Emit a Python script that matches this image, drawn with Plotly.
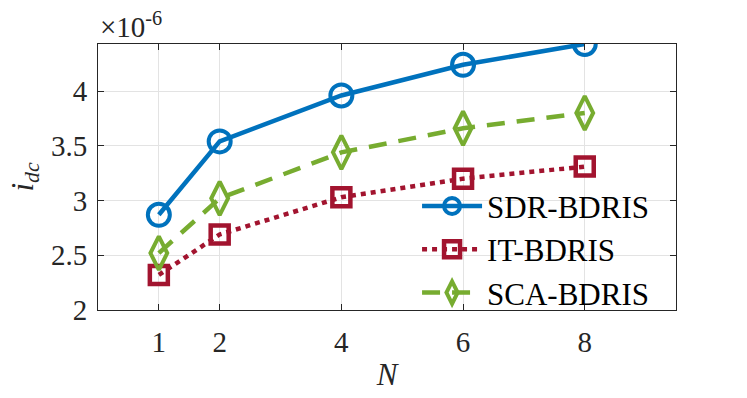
import plotly.graph_objects as go

N = [1, 2, 4, 6, 8]
sdr = [2.87, 3.54, 3.96, 4.24, 4.43]
it = [2.32, 2.69, 3.03, 3.20, 3.31]
sca = [2.52, 3.02, 3.44, 3.66, 3.80]
yticks = [2, 2.5, 3, 3.5, 4]
ytick_labels = ["2", "2.5", "3", "3.5", "4"]
xticks = [1, 2, 4, 6, 8]

FONT = "'Liberation Serif', 'Times New Roman', Times, serif"
fig = go.Figure()
fig.add_trace(go.Scatter(x=N, y=sdr, name="SDR-BDRIS", mode="lines+markers",
                         line=dict(color="#0072BD", width=4.5),
                         marker=dict(symbol="circle-open", size=22, line=dict(width=4, color="#0072BD"))))
fig.add_trace(go.Scatter(x=N, y=it, name="IT-BDRIS", mode="lines+markers",
                         line=dict(color="#A2142F", width=4.5, dash="5px,5px"),
                         marker=dict(symbol="square-open", size=18, line=dict(width=4.5, color="#A2142F"))))
fig.add_trace(go.Scatter(x=N, y=sca, name="SCA-BDRIS", mode="lines+markers",
                         line=dict(color="#77AC30", width=4.5, dash="18px,12px"),
                         marker=dict(symbol="diamond-tall-open", size=24, line=dict(width=4, color="#77AC30"))))

axis_common = dict(showline=True, linecolor="#262626", linewidth=1, mirror="ticks",
                   ticks="inside", ticklen=6, tickcolor="#262626", automargin=False,
                   showgrid=True, gridcolor="#e3e3e3", gridwidth=1, zeroline=False,
                   tickfont=dict(family=FONT, size=29, color="#262626"))
fig.update_xaxes(range=[0, 9.5], tickvals=xticks, **axis_common,
                 title=dict(text="<i>N</i>", font=dict(family=FONT, size=31, color="#262626"), standoff=6))
fig.update_yaxes(range=[2, 4.43], tickvals=yticks, ticktext=ytick_labels, **axis_common,
                 title=dict(text="<i>i</i><sub><i>dc</i></sub>", font=dict(family=FONT, size=31, color="#262626"), standoff=8))
fig.update_xaxes(ticklabelstandoff=6)
fig.update_yaxes(ticklabelstandoff=4)

fig.add_annotation(text="×10<sup>-6</sup>", xref="paper", yref="paper", x=0, y=1,
                   xanchor="left", yanchor="bottom", showarrow=False, xshift=0, yshift=-1,
                   font=dict(family=FONT, size=29, color="#262626"))

fig.update_layout(width=747, height=398, margin=dict(l=98, r=71, t=44, b=88),
                  plot_bgcolor="white", paper_bgcolor="white",
                  font=dict(family=FONT),
                  legend=dict(x=0.552, y=-0.035, xanchor="left", yanchor="bottom",
                              bgcolor="rgba(0,0,0,0)", borderwidth=0,
                              font=dict(family=FONT, size=31, color="black"),
                              itemwidth=60, tracegroupgap=0))
fig.write_html("out.html", config={"displayModeBar": False},
               post_script="document.body.style.margin='0';")
